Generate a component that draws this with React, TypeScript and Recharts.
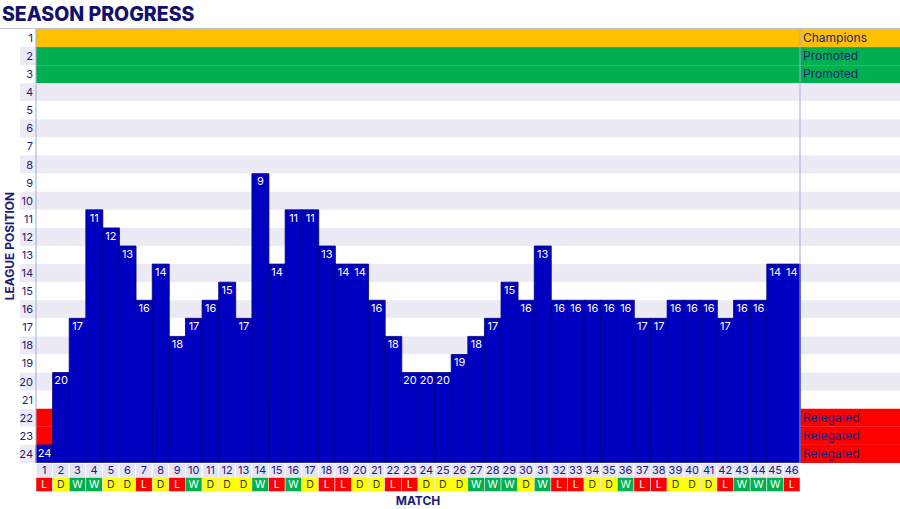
import React from 'react';
import { ComposedChart, Bar, XAxis, YAxis, ReferenceArea, LabelList } from 'recharts';

const TEAMS = 24;

const MATCHES = [
  1, 2, 3, 4, 5, 6, 7, 8, 9, 10, 11, 12, 13, 14, 15, 16, 17, 18, 19, 20, 21, 22, 23,
  24, 25, 26, 27, 28, 29, 30, 31, 32, 33, 34, 35, 36, 37, 38, 39, 40, 41, 42, 43, 44, 45, 46,
];

const POSITIONS = [
  24, 20, 17, 11, 12, 13, 16, 14, 18, 17, 16, 15, 17, 9, 14, 11, 11, 13, 14, 14, 16, 18, 20,
  20, 20, 19, 18, 17, 15, 16, 13, 16, 16, 16, 16, 16, 17, 17, 16, 16, 16, 17, 16, 16, 14, 14,
];

const RESULTS = [
  'L', 'D', 'W', 'W', 'D', 'D', 'L', 'D', 'L', 'W', 'D', 'D', 'D', 'W', 'L', 'W', 'D', 'L', 'L', 'D', 'D', 'L', 'L',
  'D', 'D', 'D', 'W', 'W', 'W', 'D', 'W', 'L', 'L', 'D', 'D', 'W', 'L', 'L', 'D', 'D', 'D', 'L', 'W', 'W', 'W', 'L',
];

const ROWS = [1, 2, 3, 4, 5, 6, 7, 8, 9, 10, 11, 12, 13, 14, 15, 16, 17, 18, 19, 20, 21, 22, 23, 24];

const ROW_STATUS: Record<number, string> = {
  1: 'Champions',
  2: 'Promoted',
  3: 'Promoted',
  22: 'Relegated',
  23: 'Relegated',
  24: 'Relegated',
};

const STATUS_COLORS: Record<string, string> = {
  Champions: '#FFC000',
  Promoted: '#00B050',
  Relegated: '#FF0000',
};

const RESULT_COLORS: Record<string, string> = { W: '#00B050', D: '#FFFF00', L: '#FF0000' };

const NAVY = '#1B1B78';
const BAND = '#ECEBF5';
const FONT = 'Inter, "Open Sans", sans-serif';

const CHART_W = 900;
const CHART_H = 509;
const LEFT_W = 36;
const RIGHT_W = 100;
const PLOT_W = CHART_W - LEFT_W - RIGHT_W;

const data = MATCHES.map((m, i) => ({
  match: m,
  pos: POSITIONS[i],
  height: TEAMS + 1 - POSITIONS[i],
  result: RESULTS[i],
}));

const RowBand = (row: number) => (props: any) => {
  const { x, y, width, height } = props;
  const status = ROW_STATUS[row];
  const alt = row % 2 === 0 ? BAND : '#FFFFFF';
  const fill = status ? STATUS_COLORS[status] : alt;
  return (
    <g>
      <rect x={x - 16} y={y} width={16} height={height} fill={alt} />
      <rect x={x} y={y} width={width + RIGHT_W} height={height} fill={fill} />
      {row === 1 && (
        <line x1={x - LEFT_W} x2={x + width + RIGHT_W} y1={y - 0.5} y2={y - 0.5} stroke="#C4C4D4" strokeWidth={1} />
      )}
      {status && (
        <text x={x + width + 3} y={y + height / 2} dy="0.35em" fontSize={12} fill={NAVY} fontFamily={FONT}>
          {status}
        </text>
      )}
    </g>
  );
};

const MatchTick = (props: any) => {
  const { x, y, payload } = props;
  const i = MATCHES.indexOf(payload.value);
  const w = PLOT_W / MATCHES.length;
  const r = RESULTS[i];
  const h = 14;
  return (
    <g>
      <rect x={x - w / 2} y={y + 0.5} width={w} height={h} fill="#E4E4F2" stroke="#FFFFFF" strokeWidth={1} />
      <text x={x} y={y + 0.5 + h / 2} dy="0.36em" textAnchor="middle" fontSize={11} fill={NAVY} fontFamily={FONT}>
        {payload.value}
      </text>
      <rect x={x - w / 2} y={y + 0.5 + h} width={w} height={h} fill={RESULT_COLORS[r]} stroke="#E8E8E8" strokeWidth={0.6} />
      <text
        x={x}
        y={y + 0.5 + h * 1.5}
        dy="0.36em"
        textAnchor="middle"
        fontSize={10.5}
        fill={r === 'D' ? '#333355' : '#FFFFFF'}
        fontFamily={FONT}
      >
        {r}
      </text>
    </g>
  );
};

const YTitle = (props: any) => {
  const { viewBox } = props;
  const cx = viewBox.x + 10;
  const cy = viewBox.y + viewBox.height / 2;
  return (
    <text
      x={cx}
      y={cy}
      transform={`rotate(-90, ${cx}, ${cy})`}
      textAnchor="middle"
      dy="0.36em"
      fontSize={12}
      fontWeight={700}
      fill={NAVY}
      fontFamily={FONT}
    >
      LEAGUE POSITION
    </text>
  );
};

export default function App() {
  return (
    <div style={{ position: 'absolute', left: 0, top: 0, width: CHART_W, height: CHART_H, background: '#fff' }}>
      <div
        style={{
          position: 'absolute',
          left: 2,
          top: 4,
          fontFamily: FONT,
          fontWeight: 800,
          fontSize: 19.5,
          lineHeight: '20px',
          color: '#12126E',
        }}
      >
        SEASON PROGRESS
      </div>
      <ComposedChart
        width={CHART_W}
        height={CHART_H}
        data={data}
        margin={{ top: 29, right: 0, bottom: 0, left: 0 }}
        barCategoryGap={0}
        barGap={0}
      >
        <XAxis
          dataKey="match"
          type="category"
          height={46}
          interval={0}
          tickLine={false}
          tickSize={0}
          tickMargin={0}
          axisLine={{ stroke: '#5A5AB8', strokeWidth: 1 }}
          tick={<MatchTick />}
          label={{ value: 'MATCH', position: 'insideBottom', offset: 4, fill: NAVY, fontSize: 12, fontWeight: 700, fontFamily: FONT }}
        />
        <YAxis
          yAxisId="left"
          type="number"
          domain={[0, TEAMS]}
          ticks={ROWS.map((p) => TEAMS + 0.5 - p)}
          tickFormatter={(v: number) => String(TEAMS + 0.5 - v)}
          interval={0}
          width={LEFT_W}
          tickLine={false}
          tickSize={0}
          tickMargin={3}
          axisLine={{ stroke: '#A8A8D8' }}
          tick={{ fill: NAVY, fontSize: 11, fontFamily: FONT }}
          label={<YTitle />}
        />
        <YAxis
          yAxisId="right"
          orientation="right"
          type="number"
          domain={[0, TEAMS]}
          width={RIGHT_W}
          tick={false}
          tickLine={false}
          axisLine={{ stroke: '#A8A8D8' }}
        />
        {ROWS.map((p) => (
          <ReferenceArea
            key={p}
            yAxisId="left"
            y1={TEAMS - p}
            y2={TEAMS + 1 - p}
            ifOverflow="visible"
            shape={RowBand(p)}
          />
        ))}
        <Bar yAxisId="left" dataKey="height" fill="#0000C0" stroke="#00007A" strokeWidth={0.8} isAnimationActive={false}>
          <LabelList dataKey="pos" position="insideTop" offset={4} fill="#FFFFFF" fontSize={11} fontFamily={FONT} />
        </Bar>
      </ComposedChart>
    </div>
  );
}
